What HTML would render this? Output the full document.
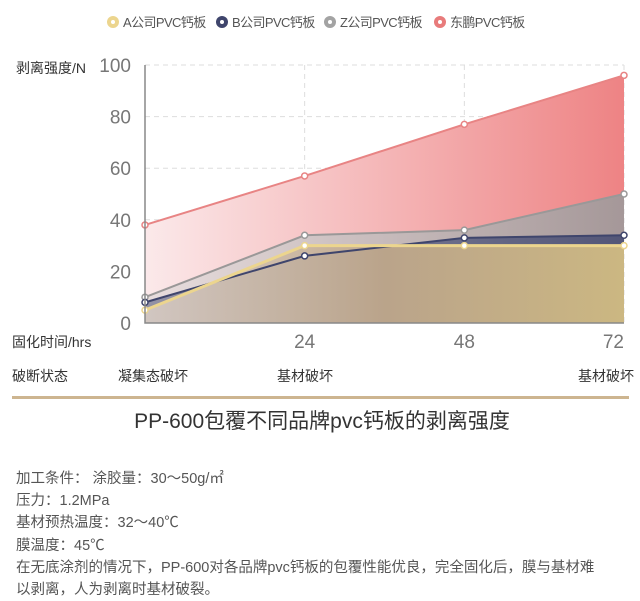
<!DOCTYPE html>
<html><head><meta charset="utf-8"><style>
body{margin:0;background:#fff;width:640px;height:601px;overflow:hidden;font-family:"Liberation Sans","Noto Sans CJK SC",sans-serif}
.t{position:absolute;font-size:14.5px;color:#555;left:16px;white-space:nowrap}
</style></head><body>
<svg id="c" width="640" height="601" style="position:absolute;left:0;top:0" font-family="Liberation Sans, Noto Sans CJK SC, sans-serif">
<defs>
<linearGradient id="gD" x1="0" x2="1"><stop offset="0" stop-color="#fbe9ea"/><stop offset="1" stop-color="#ee8384"/></linearGradient>
<linearGradient id="gZ" x1="0" x2="1"><stop offset="0" stop-color="#e6dcdc"/><stop offset="1" stop-color="#9d9a9b"/></linearGradient>
<linearGradient id="gB" x1="0" x2="1"><stop offset="0" stop-color="#8a8aa0"/><stop offset="1" stop-color="#4a4f74"/></linearGradient>
<linearGradient id="gA" x1="0" x2="1"><stop offset="0" stop-color="#d8ccc4"/><stop offset="0.5" stop-color="#c2a98a"/><stop offset="1" stop-color="#d9c283"/></linearGradient>
</defs>
<g id="grid"></g><g id="areas"></g><g id="lines"></g><g id="ax"></g>
</svg>
<div class="t" style="top:467px">加工条件：&nbsp;涂胶量：30～50g/㎡</div>
<div class="t" style="top:489px">压力：1.2MPa</div>
<div class="t" style="top:511px">基材预热温度：32～40℃</div>
<div class="t" style="top:534px">膜温度：45℃</div>
<div class="t" style="top:556px">在无底涂剂的情况下，PP-600对各品牌pvc钙板的包覆性能优良，完全固化后，膜与基材难</div>
<div class="t" style="top:578px">以剥离，人为剥离时基材破裂。</div>
<script>
const categories=[0,24,48,72];
const xTicks=["24","48","72"];
const yTicks=[0,20,40,60,80,100];
const seriesNames=["东鹏PVC钙板","Z公司PVC钙板","B公司PVC钙板","A公司PVC钙板"];
const dongpeng=[38,57,77,96];
const zco=[10,34,36,50];
const bco=[8,26,33,34];
const aco=[5,30,30,30];
const NS="http://www.w3.org/2000/svg";
const X=v=>145+(v/72)*479, Y=v=>323-v*2.58;
function mk(p,t,a){const e=document.createElementNS(NS,t);for(const k in a)e.setAttribute(k,a[k]);document.getElementById(p).appendChild(e);return e;}
yTicks.forEach(v=>{if(v>0){const g=mk('grid','line',{x1:145,x2:624,y1:Y(v),y2:Y(v),stroke:'#ddd','stroke-dasharray':'5,4'});

}
const t=mk('ax','text',{x:131,y:Y(v)+7,'text-anchor':'end','font-size':19,fill:'#777'});t.textContent=v;

});
categories.slice(1).forEach((c,i)=>{const g=mk('grid','line',{x1:X(c),x2:X(c),y1:Y(100),y2:323,stroke:'#ddd','stroke-dasharray':'5,4'});


const t=mk('ax','text',{x:X(c),y:348,'text-anchor':i==2?'end':'middle','font-size':19,fill:'#777'});t.textContent=xTicks[i];

});
const series=[[dongpeng,'gD','#e88484'],[zco,'gZ','#9a9898'],[bco,'gB','#3f456c'],[aco,'gA','#ecd58e']];
series.forEach((s,i)=>{const pts=s[0].map((v,j)=>X(categories[j])+','+Y(v)).join(' ');
const a=mk('areas','polygon',{points:X(0)+','+Y(0)+' '+pts+' '+X(72)+','+Y(0),fill:'url(#'+s[1]+')',opacity:i==0?1:0.9});


const l=mk('lines','polyline',{points:pts,fill:'none',stroke:s[2],'stroke-width':i==3?3:2});


s[0].forEach((v,j)=>{const c=mk('lines','circle',{cx:X(categories[j]),cy:Y(v),r:3,fill:'#fff',stroke:s[2],'stroke-width':1.5});

});});
const ax=mk('ax','polyline',{points:'145,'+Y(100)+' 145,323 624,323',fill:'none',stroke:'#888','stroke-width':1.5});


function tx(x,y,s,str,fill,anchor,name){const t=mk('ax','text',{x:x,y:y,'font-size':s,fill:fill,'text-anchor':anchor||'start'});t.textContent=str;

return t;}
tx(16,73,14,'剥离强度/N','#333','start','y-axis-title');
tx(12,347,14,'固化时间/hrs','#333','start','x-axis-title');
tx(12,381,14,'破断状态','#333','start','fracture-label');
tx(118,381,14,'凝集态破坏','#333','start','fracture-0');
tx(305,381,14,'基材破坏','#333','middle','fracture-24');
tx(634,381,14,'基材破坏','#333','end','fracture-72');
const hr=mk('ax','rect',{x:12,y:396,width:617,height:3,fill:'#cdb590'});


tx(322,428,21,'PP-600包覆不同品牌pvc钙板的剥离强度','#333','middle','chart-title');
const leg=[['A公司PVC钙板','#ecd58e',113],['B公司PVC钙板','#3f456c',222],['Z公司PVC钙板','#a3a3a3',330],['东鹏PVC钙板','#e87b7b',440]];
leg.forEach(l=>{const c=mk('ax','circle',{cx:l[2],cy:22,r:6,fill:l[1]});


mk('ax','circle',{cx:l[2],cy:22,r:2,fill:'#fff'});
const t=tx(l[2]+10,27,13,l[0],'#555','start','legend-'+l[0]);t.setAttribute('letter-spacing','-0.6');});
</script>
</body></html>
